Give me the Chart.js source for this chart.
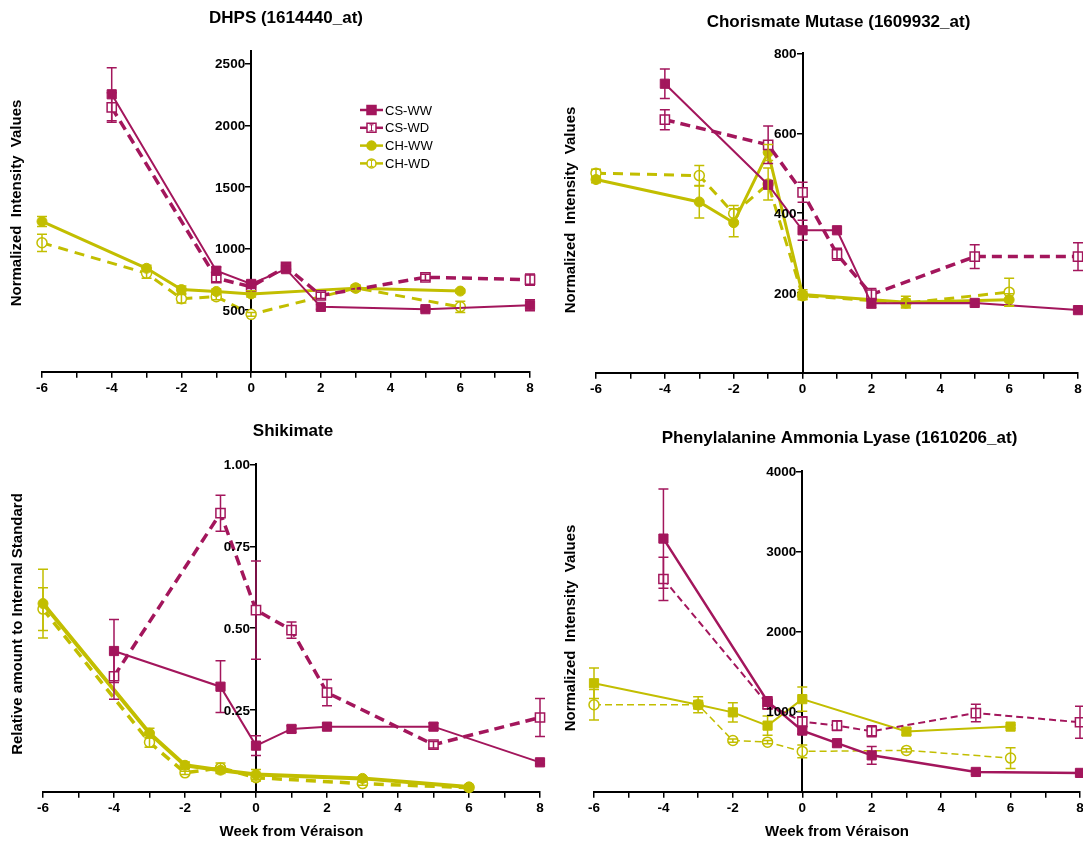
<!DOCTYPE html>
<html>
<head>
<meta charset="utf-8">
<script src="https://cdn.jsdelivr.net/npm/chart.js@4.4.1/dist/chart.umd.min.js"></script>
<style>
  html, body { margin:0; padding:0; background:#fff; }
  body { width:1083px; height:846px; position:relative; overflow:hidden; }
  .pane { position:absolute; }
</style>
</head>
<body>
<div class="pane" style="left:0;top:0;width:545px;height:400px"><canvas id="c1" width="545" height="400"></canvas></div>
<div class="pane" style="left:545px;top:0;width:541px;height:400px"><canvas id="c2" width="541" height="400"></canvas></div>
<div class="pane" style="left:0;top:400px;width:548px;height:446px"><canvas id="c3" width="548" height="446"></canvas></div>
<div class="pane" style="left:545px;top:400px;width:543px;height:446px"><canvas id="c4" width="543" height="446"></canvas></div>
<script>
// ---------- data ----------
const seriesNames = ['CS-WW', 'CS-WD', 'CH-WW', 'CH-WD'];
const weeksCS = [-4, -1, 0, 1, 2, 5, 8];
const weeksCH = [-6, -3, -2, -1, 0, 3, 6];
const xTickValues = [-6, -5, -4, -3, -2, -1, 0, 1, 2, 3, 4, 5, 6, 7, 8];

// DHPS (1614440_at)
const dhpsCSWW = [2252, 820, 713, 833, 527, 508, 540];
const dhpsCSWWerr = [215, 30, 25, 25, 20, 15, 45];
const dhpsCSWD = [2145, 760, 690, 852, 620, 767, 748];
const dhpsCSWDerr = [120, 30, 30, 25, 25, 25, 45];
const dhpsCHWW = [1220, 840, 667, 652, 632, 679, 655];
const dhpsCHWWerr = [40, 25, 30, 20, 25, 20, 15];
const dhpsCHWD = [1047, 799, 593, 610, 466, 680, 527];
const dhpsCHWDerr = [70, 40, 35, 25, 15, 25, 45];
const dhpsYTicks = [500, 1000, 1500, 2000, 2500];

// Chorismate Mutase (1609932_at)
const cmCSWW = [724, 471, 357, 357, 174, 175, 157];
const cmCSWWerr = [37, 0, 25, 0, 12, 0, 0];
const cmCSWD = [634, 571, 452, 297, 196, 291, 291];
const cmCSWDerr = [25, 47, 25, 15, 15, 30, 35];
const cmCHWW = [484, 428, 376, 552, 196, 177, 183];
const cmCHWWerr = [8, 40, 35, 20, 12, 15, 15];
const cmCHWD = [500, 494, 399, 473, 193, 175, 202];
const cmCHWDerr = [10, 25, 20, 40, 10, 10, 35];
const cmYTicks = [200, 400, 600, 800];

// Shikimate
const shCSWW = [0.430, 0.321, 0.141, 0.192, 0.199, 0.199, 0.090];
const shCSWWerr = [0.096, 0.079, 0.03, 0.01, 0.01, 0.01, 0.005];
const shCSWD = [0.353, 0.851, 0.555, 0.494, 0.303, 0.144, 0.227];
const shCSWDerr = [0.07, 0.055, 0.15, 0.025, 0.04, 0.01, 0.058];
const shCHWW = [0.575, 0.179, 0.081, 0.066, 0.053, 0.041, 0.015];
const shCHWWerr = [0.105, 0.015, 0.01, 0.01, 0.015, 0.005, 0.005];
const shCHWD = [0.558, 0.151, 0.058, 0.073, 0.043, 0.025, 0.013];
const shCHWDerr = [0.065, 0.015, 0.005, 0.015, 0.01, 0.005, 0.005];
const shYTicks = [0.25, 0.50, 0.75, 1.00];

// Phenylalanine Ammonia Lyase (1610206_at)
const palCSWW = [3161, 1128, 764, 607, 455, 248, 236];
const palCSWWerr = [620, 60, 40, 40, 110, 30, 20];
const palCSWD = [2657, 1095, 876, 826, 756, 983, 868];
const palCSWDerr = [270, 60, 60, 60, 70, 110, 200];
const palCHWW = [1355, 1087, 992, 826, 1157, 752, 814];
const palCHWWerr = [190, 100, 120, 120, 150, 40, 20];
const palCHWD = [1087, 1087, 640, 620, 504, 517, 421];
const palCHWDerr = [190, 30, 20, 20, 80, 20, 130];
const palYTicks = [1000, 2000, 3000, 4000];

// ---------- styling ----------
const CRIM = '#A3165C';
const YEL = '#C2BE00';
const FAM = 'Arial, "Liberation Sans", sans-serif';
const tickFont = { family: FAM, size: 13.5, weight: 'bold' };

const pts = (xs, ys) => xs.map((x, i) => ({ x: x, y: ys[i] }));

function ds(name, xs, ys, errs, st) {
  const filled = name.endsWith('WW');
  const col = name.startsWith('CS') ? CRIM : YEL;
  return {
    label: name,
    data: pts(xs, ys),
    errors: errs,
    borderColor: col,
    backgroundColor: col,
    borderWidth: st.w,
    borderDash: st.dash || [],
    pointStyle: st.shape,
    pointRadius: st.shape === 'rect' ? 6.5 : 5,
    pointHoverRadius: st.shape === 'rect' ? 6.5 : 5,
    pointBackgroundColor: filled ? col : '#fff',
    pointBorderColor: col,
    pointBorderWidth: filled ? 1 : 1.5,
    tension: 0,
    clip: false,
    fill: false
  };
}

const errorBars = {
  id: 'errorBars',
  afterDatasetsDraw(chart) {
    const ctx = chart.ctx;
    const ys = chart.scales.y;
    chart.data.datasets.forEach((d, i) => {
      if (!d.errors) return;
      const meta = chart.getDatasetMeta(i);
      ctx.save();
      ctx.strokeStyle = d.borderColor;
      ctx.lineWidth = 1.5;
      ctx.setLineDash([]);
      d.data.forEach((p, j) => {
        const e = d.errors[j];
        if (!e) return;
        const x = meta.data[j].x;
        const y1 = ys.getPixelForValue(p.y + e);
        const y2 = ys.getPixelForValue(p.y - e);
        ctx.beginPath();
        ctx.moveTo(x, y1); ctx.lineTo(x, y2);
        ctx.moveTo(x - 5, y1); ctx.lineTo(x + 5, y1);
        ctx.moveTo(x - 5, y2); ctx.lineTo(x + 5, y2);
        ctx.stroke();
      });
      ctx.restore();
    });
  }
};

// y tick labels drawn from the y scale's own ticks, left of the centred axis
const yTickLabels = {
  id: 'yTickLabels',
  afterDraw(chart, args, o) {
    const ys = chart.scales.y, xs = chart.scales.x;
    const ax = xs.getPixelForValue(0);
    const ctx = chart.ctx;
    ctx.save();
    ctx.font = 'bold ' + tickFont.size + 'px ' + FAM;
    ctx.fillStyle = '#000';
    ctx.textAlign = 'right';
    ctx.textBaseline = 'middle';
    ys.ticks.forEach(t => {
      const txt = o.fmt ? o.fmt(t.value) : String(t.value);
      ctx.fillText(txt, ax - 6, ys.getPixelForValue(t.value) + 1);
    });
    ctx.restore();
  }
};

const sideLabel = {
  id: 'sideLabel',
  afterDraw(chart, args, o) {
    if (!o || !o.text) return;
    const ctx = chart.ctx;
    ctx.save();
    ctx.translate(o.x, o.y);
    ctx.rotate(-Math.PI / 2);
    ctx.font = 'bold 15px ' + FAM;
    ctx.fillStyle = '#000';
    ctx.textAlign = 'center';
    ctx.textBaseline = 'middle';
    ctx.fillText(o.text, 0, 0);
    ctx.restore();
  }
};

const markerLegend = {
  id: 'markerLegend',
  afterDraw(chart, args, o) {
    if (!o || !o.show) return;
    const ctx = chart.ctx;
    chart.data.datasets.forEach((d, i) => {
      const y = o.y + i * o.gap;
      const x0 = o.x, x1 = o.x + 23, xm = (x0 + x1) / 2;
      ctx.save();
      ctx.strokeStyle = d.borderColor;
      ctx.lineWidth = 2.5;
      ctx.beginPath(); ctx.moveTo(x0, y); ctx.lineTo(x1, y); ctx.stroke();
      ctx.fillStyle = d.pointBackgroundColor;
      ctx.lineWidth = 1.5;
      ctx.beginPath();
      if (d.pointStyle === 'rect') ctx.rect(xm - 4.5, y - 4.5, 9, 9);
      else ctx.arc(xm, y, 4.5, 0, Math.PI * 2);
      ctx.fill(); ctx.stroke();
      if (d.pointBackgroundColor === '#fff') {
        ctx.lineWidth = 1;
        ctx.beginPath();
        ctx.moveTo(xm, y - 3); ctx.lineTo(xm, y + 3);
        ctx.moveTo(xm - 2, y - 3); ctx.lineTo(xm + 2, y - 3);
        ctx.moveTo(xm - 2, y + 3); ctx.lineTo(xm + 2, y + 3);
        ctx.stroke();
      }
      ctx.fillStyle = '#000';
      ctx.font = '13px ' + FAM;
      ctx.textAlign = 'left';
      ctx.textBaseline = 'middle';
      ctx.fillText(d.label, x1 + 2, y + 1);
      ctx.restore();
    });
  }
};

function makeChart(id, cfg) {
  const fmt = cfg.yFmt || (v => String(v));
  const xAxis = {
    type: 'linear', position: 'bottom', min: -6, max: 8,
    afterBuildTicks: s => { s.ticks = xTickValues.map(v => ({ value: v })); },
    ticks: {
      autoSkip: false, maxRotation: 0, color: '#000', padding: 2,
      font: tickFont,
      callback: v => (v % 2 === 0 ? String(v) : '')
    },
    grid: { drawOnChartArea: false, drawTicks: true, tickLength: 6, color: '#000', lineWidth: 1.5 },
    border: { display: true, color: '#000', width: 2 },
    title: cfg.xTitle ? {
      display: true, text: 'Week from Véraison', color: '#000',
      font: { family: FAM, size: 15, weight: 'bold' },
      padding: { top: 5, bottom: 5 }
    } : { display: false }
  };
  const yAxis = {
    type: 'linear', position: { x: 0 }, min: 0, max: cfg.yMax,
    afterBuildTicks: s => { s.ticks = cfg.yTicks.map(v => ({ value: v })); },
    ticks: { display: false, color: '#000', font: tickFont, callback: fmt },
    grid: { drawOnChartArea: false, drawTicks: true, tickLength: 5, color: '#000', lineWidth: 1.5 },
    border: { display: true, color: '#000', width: 2 }
  };
  return new Chart(document.getElementById(id), {
    type: 'line',
    data: { datasets: cfg.datasets },
    options: {
      responsive: false, animation: false, devicePixelRatio: 1,
      layout: { padding: cfg.pad },
      scales: { x: xAxis, y: yAxis },
      plugins: {
        legend: { display: false },
        tooltip: { enabled: false },
        title: {
          display: true, text: cfg.title, color: '#000',
          font: { family: FAM, size: 17, weight: 'bold' },
          padding: cfg.titlePad
        },
        yTickLabels: { fmt: fmt },
        sideLabel: cfg.side,
        markerLegend: cfg.legend || { show: false }
      }
    },
    plugins: [errorBars, yTickLabels, sideLabel, markerLegend]
  });
}

const thick = {
  csww: { w: 2, shape: 'rect' },
  cswd: { w: 3.5, shape: 'rect', dash: [10, 6] },
  chww: { w: 3, shape: 'circle' },
  chwd: { w: 3, shape: 'circle', dash: [10, 7] }
};

makeChart('c1', {
  title: 'DHPS (1614440_at)',
  titlePad: { top: 8, bottom: 23 },
  pad: { left: 42, right: 15, top: 0, bottom: 2 },
  yMax: 2600, yTicks: dhpsYTicks,
  side: { text: 'Normalized  Intensity  Values', x: 17, y: 203 },
  legend: { show: true, x: 360, y: 110, gap: 17.8 },
  datasets: [
    ds('CS-WW', weeksCS, dhpsCSWW, dhpsCSWWerr, thick.csww),
    ds('CS-WD', weeksCS, dhpsCSWD, dhpsCSWDerr, thick.cswd),
    ds('CH-WW', weeksCH, dhpsCHWW, dhpsCHWWerr, thick.chww),
    ds('CH-WD', weeksCH, dhpsCHWD, dhpsCHWDerr, thick.chwd)
  ]
});

makeChart('c2', {
  title: 'Chorismate Mutase (1609932_at)',
  titlePad: { top: 12, bottom: 21 },
  pad: { left: 51, right: 5, top: 0, bottom: 1 },
  yMax: 800, yTicks: cmYTicks,
  side: { text: 'Normalized  Intensity  Values', x: 26, y: 210 },
  datasets: [
    ds('CS-WW', weeksCS, cmCSWW, cmCSWWerr, thick.csww),
    ds('CS-WD', weeksCS, cmCSWD, cmCSWDerr, thick.cswd),
    ds('CH-WW', weeksCH, cmCHWW, cmCHWWerr, thick.chww),
    ds('CH-WD', weeksCH, cmCHWD, cmCHWDerr, thick.chwd)
  ]
});

makeChart('c3', {
  title: 'Shikimate',
  titlePad: { top: 21, bottom: 23 },
  pad: { left: 43, right: 5, top: 0, bottom: 0 },
  yMax: 1.0, yTicks: shYTicks,
  yFmt: v => Number(v).toFixed(2),
  xTitle: true,
  side: { text: 'Relative amount to Internal Standard', x: 18, y: 224 },
  datasets: [
    ds('CS-WW', weeksCS, shCSWW, shCSWWerr, thick.csww),
    ds('CS-WD', weeksCS, shCSWD, shCSWDerr, thick.cswd),
    ds('CH-WW', weeksCH, shCHWW, shCHWWerr, { w: 4, shape: 'circle' }),
    ds('CH-WD', weeksCH, shCHWD, shCHWDerr, { w: 3.5, shape: 'circle', dash: [10, 7] })
  ]
});

makeChart('c4', {
  title: 'Phenylalanine Ammonia Lyase (1610206_at)',
  titlePad: { top: 28, bottom: 23 },
  pad: { left: 49, right: 3, top: 0, bottom: 0 },
  yMax: 4000, yTicks: palYTicks,
  xTitle: true,
  side: { text: 'Normalized  Intensity  Values', x: 26, y: 228 },
  datasets: [
    ds('CS-WW', weeksCS, palCSWW, palCSWWerr, { w: 2.5, shape: 'rect' }),
    ds('CS-WD', weeksCS, palCSWD, palCSWDerr, { w: 2, shape: 'rect', dash: [7, 4] }),
    ds('CH-WW', weeksCH, palCHWW, palCHWWerr, { w: 2, shape: 'rect' }),
    ds('CH-WD', weeksCH, palCHWD, palCHWDerr, { w: 1.5, shape: 'circle', dash: [7, 4] })
  ]
});
</script>
</body>
</html>
